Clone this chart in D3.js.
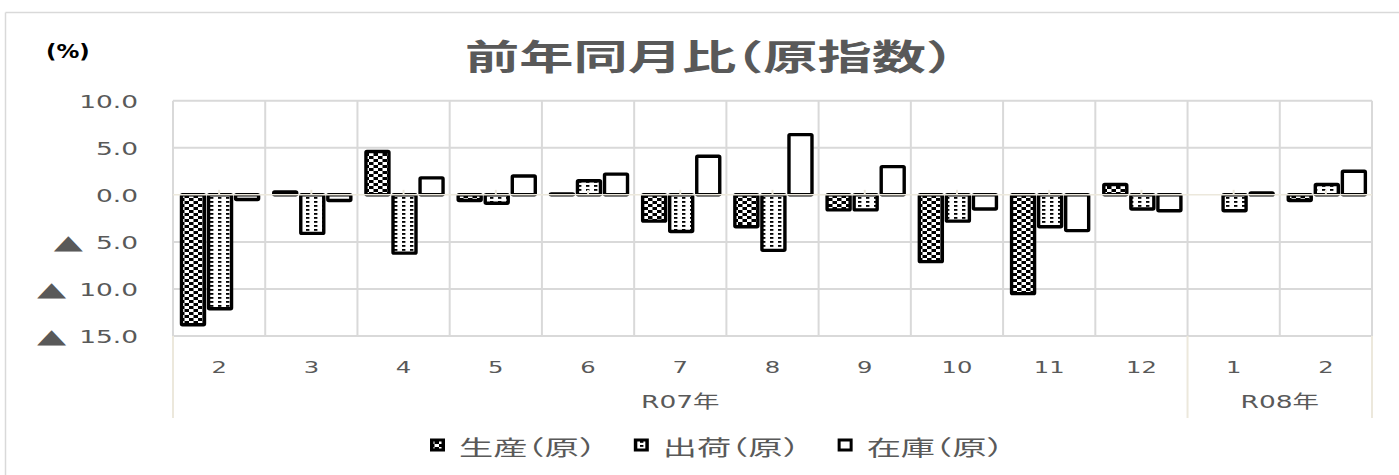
<!DOCTYPE html>
<html lang="ja"><head><meta charset="utf-8">
<script src="https://cdn.jsdelivr.net/npm/d3@7/dist/d3.min.js"></script>
<style>
html,body{margin:0;padding:0;background:#fff;}
svg{display:block;}
.halt{font-feature-settings:"halt" 1;}
</style></head>
<body><svg id="chart" width="1399" height="475" lang="ja"></svg>
<script>
// ---- data ----
const categories = ["2","3","4","5","6","7","8","9","10","11","12","1","2"];
const yearLabels = ["R07年","R08年"];
const yearSpans = [11, 2];
const seriesNames = ["生産（原）","出荷（原）","在庫（原）"];
const production = [-13.8, 0.3, 4.6, -0.6, 0.1, -2.8, -3.4, -1.6, -7.1, -10.5, 1.1, 0.0, -0.6];
const shipments  = [-12.1, -4.1, -6.2, -0.9, 1.5, -3.9, -5.9, -1.6, -2.8, -3.4, -1.5, -1.7, 1.1];
const inventory  = [-0.5, -0.6, 1.8, 2.0, 2.2, 4.1, 6.4, 3.0, -1.5, -3.8, -1.7, 0.2, 2.5];
const yTicks = [10, 5, 0, -5, -10, -15];
const titleText = "前年同月比（原指数）";
const unitText = "(%)";

// ---- layout ----
const SX = 1.47;               // horizontal stretch of the original rendering
const TXT = "#595959";
const GRID = "#d9d9d9";
const AXIS = "#ece8dc";
const svg = d3.select("#chart");

const x = d3.scaleBand().domain(d3.range(categories.length)).range([173, 1372]).padding(0);
const bw = x.bandwidth();
const xs = d3.scaleBand().domain([0,1,2]).range([bw*0.092, bw*0.928]).paddingInner(0.15).paddingOuter(0);
const y = d3.scaleLinear().domain([-15, 10]).range([336, 100.7]);

// patterns
const defs = svg.append("defs");
const p1 = defs.append("pattern").attr("id","pProd").attr("patternUnits","userSpaceOnUse")
  .attr("width",9).attr("height",6);
p1.append("rect").attr("width",9).attr("height",6).attr("fill","#fff");
p1.append("rect").attr("x",0).attr("y",0).attr("width",4.5).attr("height",3).attr("fill","#000");
p1.append("rect").attr("x",4.5).attr("y",3).attr("width",4.5).attr("height",3).attr("fill","#000");
const p2 = defs.append("pattern").attr("id","pShip").attr("patternUnits","userSpaceOnUse")
  .attr("width",8).attr("height",4);
p2.append("rect").attr("width",8).attr("height",4).attr("fill","#fff");
p2.append("rect").attr("x",2).attr("y",1).attr("width",3.4).attr("height",1.8).attr("fill","#000");
const fills = ["url(#pProd)","url(#pShip)","#ffffff"];

// outer frame (top & left visible)
svg.append("line").attr("x1",5.5).attr("x2",1399).attr("y1",12.5).attr("y2",12.5).attr("stroke",GRID).attr("stroke-width",1.5);
svg.append("line").attr("x1",5.5).attr("x2",5.5).attr("y1",12.5).attr("y2",475).attr("stroke",GRID).attr("stroke-width",1.5);

// stretched text helper
function stext(g, str, px, py, opts){
  const t = g.append("text")
    .attr("class", "halt")
    .attr("transform", `translate(${px},${py}) scale(${opts.sx || SX},1)`)
    .attr("text-anchor", opts.anchor || "middle")
    .attr("dominant-baseline", "central")
    .attr("font-family", opts.family || "'Noto Sans CJK JP', sans-serif")
    .attr("font-size", opts.size)
    .attr("font-weight", opts.weight || "normal")
    .attr("fill", opts.color || TXT)
    .text(str);
  return t;
}

// gridlines
const grid = svg.append("g");
grid.selectAll("line.h").data(yTicks.filter(d => d !== 0)).join("line")
  .attr("x1", x.range()[0]).attr("x2", x.range()[1])
  .attr("y1", d => y(d)).attr("y2", d => y(d))
  .attr("stroke", GRID).attr("stroke-width", 2);
grid.selectAll("line.v").data(d3.range(categories.length + 1)).join("line")
  .attr("x1", i => i < categories.length ? x(i) : x.range()[1])
  .attr("x2", i => i < categories.length ? x(i) : x.range()[1])
  .attr("y1", y(10)).attr("y2", y(-15))
  .attr("stroke", GRID).attr("stroke-width", 2);

// multi-level category separators below plot
let acc = 0;
const sepIdx = [0];
yearSpans.forEach(s => { acc += s; sepIdx.push(acc); });
svg.append("g").selectAll("line").data(sepIdx).join("line")
  .attr("x1", i => i < categories.length ? x(i) : x.range()[1])
  .attr("x2", i => i < categories.length ? x(i) : x.range()[1])
  .attr("y1", y(-15)).attr("y2", 418)
  .attr("stroke", AXIS).attr("stroke-width", 2);

// bars
const series = [production, shipments, inventory];
const barG = svg.append("g");
series.forEach((vals, s) => {
  barG.append("g").selectAll("rect").data(vals).join("rect")
    .attr("x", (d, i) => x(i) + xs(s))
    .attr("width", xs.bandwidth())
    .attr("y", d => Math.min(y(d), y(0)))
    .attr("height", d => Math.abs(y(d) - y(0)))
    .attr("fill", fills[s])
    .attr("stroke", "#000").attr("stroke-width", 3.4)
    .attr("stroke-linejoin", "round")
    .attr("rx", 1);
});

// zero axis line + small ticks
svg.append("line").attr("x1", x.range()[0]).attr("x2", x.range()[1])
  .attr("y1", y(0)).attr("y2", y(0)).attr("stroke", AXIS).attr("stroke-width", 1.5);
svg.append("g").selectAll("line").data(d3.range(categories.length)).join("line")
  .attr("x1", i => x(i) + bw/2).attr("x2", i => x(i) + bw/2)
  .attr("y1", y(0) - 5).attr("y2", y(0))
  .attr("stroke", AXIS).attr("stroke-width", 2);

// y axis labels (numbers), negatives shown with a separate ▲ mark
const yAxis = d3.axisLeft(y).tickValues(yTicks).tickSize(0).tickPadding(0)
  .tickFormat(d => Math.abs(d).toFixed(1));
const ya = svg.append("g").attr("transform", "translate(138,0)").call(yAxis);
ya.select(".domain").remove();
ya.selectAll("text")
  .attr("x", 0).attr("dy", null)
  .attr("dominant-baseline", "central")
  .attr("transform", `scale(${SX},1)`)
  .attr("font-family", "'DejaVu Sans', sans-serif")
  .attr("font-size", 18).attr("fill", TXT);
ya.selectAll(".tick").each(function(d){
  if (d >= 0) return;
  const tick = d3.select(this);
  const w = tick.select("text").node().getComputedTextLength() * SX;
  tick.append("text")
    .attr("transform", `translate(${-w - 13},0) scale(1.9,1)`)
    .attr("text-anchor", "end")
    .attr("dominant-baseline", "central")
    .attr("font-family", "'DejaVu Sans', sans-serif")
    .attr("font-size", 20).attr("fill", TXT)
    .text("▲");
});

// x axis month labels
const xAxis = d3.axisBottom(x).tickSize(0).tickPadding(0).tickFormat(i => categories[i]);
const xa = svg.append("g").attr("transform", "translate(0,367)").call(xAxis);
xa.select(".domain").remove();
xa.selectAll("text")
  .attr("y", 0).attr("dy", null)
  .attr("dominant-baseline", "central")
  .attr("transform", `scale(${SX},1)`)
  .attr("font-family", "'DejaVu Sans', sans-serif")
  .attr("font-size", 16.5).attr("fill", TXT);

// year group labels
const yearG = svg.append("g");
let start = 0;
yearLabels.forEach((lab, k) => {
  const a = x(start);
  const endI = start + yearSpans[k];
  const b = endI < categories.length ? x(endI) : x.range()[1];
  stext(yearG, lab, (a + b) / 2, 402, {size: 18, family: "'DejaVu Sans','Noto Sans CJK JP', sans-serif"});
  start = endI;
});

// title & unit
stext(svg, titleText, 709, 55, {size: 35, sx: 1.55, weight: "bold"});
stext(svg, unitText, 46, 52, {size: 19, sx: 1.2, weight: "bold", anchor: "start", color: "#000", family: "'DejaVu Sans', sans-serif"});

// legend
const lg = svg.append("g");
let cursor = 0;
const swW = 15, swH = 12, swGap = 14, itemGap = 38, legY = 446;
seriesNames.forEach((name, s) => {
  const g = lg.append("g");
  g.append("rect").attr("x", cursor + 1.5).attr("y", legY - swH/2).attr("width", swW - 3).attr("height", swH - 2)
    .attr("fill", s === 2 ? "#fff" : "#000").attr("stroke", "#000").attr("stroke-width", 3);
  if (s < 2) {
    g.append("rect").attr("x", cursor + 3.5).attr("y", legY - swH/2 + 1.5).attr("width", swW - 7).attr("height", swH - 5)
      .attr("fill", fills[s]);
  }
  const t = stext(g, name, cursor + swW + swGap, legY, {size: 21, sx: 1.63, anchor: "start"});
  const w = t.node().getComputedTextLength() * 1.63;
  cursor += swW + swGap + w + itemGap;
});
lg.attr("transform", `translate(430,0)`);
</script></body></html>
